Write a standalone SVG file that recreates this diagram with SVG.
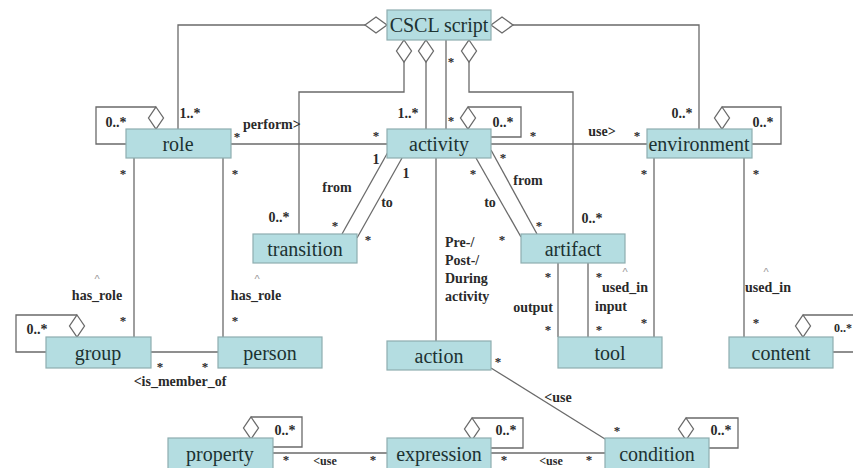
<svg xmlns="http://www.w3.org/2000/svg" width="853" height="468" viewBox="0 0 853 468">
<style>
.node rect{fill:#b4dde1;stroke:#8eadb0;stroke-width:1.2}
.node text{font-family:'Liberation Serif','DejaVu Serif',serif;font-size:20px;fill:#1c3232;text-anchor:middle}
.conn{fill:none;stroke:#6a6a6a;stroke-width:1.3}
.dia{fill:#fff;stroke:#6a6a6a;stroke-width:1.3}
.lbl{font-family:'Liberation Serif','DejaVu Serif',serif;font-size:14px;font-weight:bold;fill:#2a2a2a;text-anchor:middle}
.st{font-family:'Liberation Serif','DejaVu Serif',serif;font-size:13px;font-weight:bold;fill:#2a2a2a;text-anchor:middle}
.car{font-family:'Liberation Sans',sans-serif;font-size:11px;fill:#999;text-anchor:middle}
.lft{text-anchor:start}
</style>
<defs>
<polygon id="dv" class="dia" points="0,0 7.5,11 0,22 -7.5,11"/>
<polygon id="dh" class="dia" points="0,0 11,-8 22,0 11,8"/>
</defs>
<rect width="853" height="468" fill="#fff"/>
<g id="connectors">
<polyline class="conn" points="365,25 178,25 178,129"/>
<use href="#dh" x="365" y="25"/>
<polyline class="conn" points="513,25 699,25 699,129"/>
<use href="#dh" x="491" y="25"/>
<polyline class="conn" points="404,62 404,92 299,92 299,234"/>
<use href="#dv" x="404" y="40"/>
<line class="conn" x1="426" y1="62" x2="426" y2="129"/>
<use href="#dv" x="426" y="40"/>
<line class="conn" x1="446" y1="40" x2="446" y2="129"/>
<polyline class="conn" points="469,62 469,92 573,92 573,234"/>
<use href="#dv" x="469" y="40"/>
<polyline class="conn" points="468,107 521,107 521,137 491,137"/>
<use href="#dv" x="468" y="107"/>
<polyline class="conn" points="156,107 96,107 96,144 126,144"/>
<use href="#dv" x="156" y="107"/>
<polyline class="conn" points="722,107 781,107 781,144 752,144"/>
<use href="#dv" x="722" y="107"/>
<line class="conn" x1="231" y1="144" x2="387" y2="144"/>
<line class="conn" x1="491" y1="144" x2="647" y2="144"/>
<line class="conn" x1="134" y1="158" x2="134" y2="337"/>
<line class="conn" x1="223" y1="158" x2="223" y2="337"/>
<polyline class="conn" points="77,315 16,315 16,352 46,352"/>
<use href="#dv" x="77" y="315"/>
<line class="conn" x1="151" y1="352" x2="218" y2="352"/>
<line class="conn" x1="388" y1="152" x2="342" y2="234"/>
<line class="conn" x1="402" y1="158" x2="357" y2="238"/>
<line class="conn" x1="436" y1="158" x2="436" y2="341"/>
<line class="conn" x1="476" y1="158" x2="521" y2="237"/>
<line class="conn" x1="491" y1="150" x2="537" y2="234"/>
<line class="conn" x1="558" y1="263" x2="558" y2="337"/>
<line class="conn" x1="588" y1="263" x2="588" y2="337"/>
<line class="conn" x1="654" y1="158" x2="654" y2="337"/>
<line class="conn" x1="744" y1="158" x2="744" y2="337"/>
<polyline class="conn" points="803,315 862,315 862,352 833,352"/>
<use href="#dv" x="803" y="315"/>
<line class="conn" x1="491" y1="368" x2="605" y2="439"/>
<polyline class="conn" points="251,417 302,417 302,447 273,447"/>
<use href="#dv" x="251" y="417"/>
<polyline class="conn" points="472,418 523,418 523,448 491,448"/>
<use href="#dv" x="472" y="418"/>
<polyline class="conn" points="686,418 738,418 738,448 709,448"/>
<use href="#dv" x="686" y="418"/>
<line class="conn" x1="273" y1="453" x2="387" y2="453"/>
<line class="conn" x1="491" y1="453" x2="605" y2="453"/>
</g>
<g id="labels">
<text class="lbl" x="116" y="127">0..*</text>
<text class="lbl" x="190" y="118">1..*</text>
<text class="lbl lft" x="243" y="129">perform&gt;</text>
<text class="lbl" x="408" y="118">1..*</text>
<text class="lbl" x="503" y="127">0..*</text>
<text class="lbl" x="602" y="136">use&gt;</text>
<text class="lbl" x="682" y="118">0..*</text>
<text class="lbl" x="763" y="127">0..*</text>
<text class="lbl" x="279" y="222">0..*</text>
<text class="lbl" x="376" y="164">1</text>
<text class="lbl" x="406" y="178">1</text>
<text class="lbl" x="337" y="192">from</text>
<text class="lbl" x="387" y="207">to</text>
<text class="lbl" x="528" y="185">from</text>
<text class="lbl" x="490" y="207">to</text>
<text class="lbl" x="592" y="223">0..*</text>
<text class="lbl lft" x="445" y="247">Pre-/</text>
<text class="lbl lft" x="445" y="265">Post-/</text>
<text class="lbl lft" x="445" y="283">During</text>
<text class="lbl lft" x="445" y="301">activity</text>
<text class="lbl" x="533" y="312">output</text>
<text class="lbl" x="625" y="292">used_in</text>
<text class="lbl" x="611" y="311">input</text>
<text class="car" x="625" y="276">^</text>
<text class="car" x="766" y="276">^</text>
<text class="lbl" x="768" y="292">used_in</text>
<text class="car" x="97" y="283">^</text>
<text class="lbl" x="97" y="300">has_role</text>
<text class="car" x="257" y="283">^</text>
<text class="lbl" x="256" y="300">has_role</text>
<text class="lbl" x="37" y="334">0..*</text>
<text class="lbl" x="180" y="386">&lt;is_member_of</text>
<text class="lbl" x="558" y="402">&lt;use</text>
<text class="lbl" x="285" y="435">0..*</text>
<text class="lbl" x="506" y="435">0..*</text>
<text class="lbl" x="721" y="435">0..*</text>
<text class="lbl lft" x="834" y="332" style="font-size:12px">0..*</text>
<text class="lbl" x="325" y="465" style="font-size:12px">&lt;use</text>
<text class="lbl" x="551" y="465" style="font-size:12px">&lt;use</text>
<text class="st" x="237" y="141">*</text>
<text class="st" x="376" y="140">*</text>
<text class="st" x="451" y="66">*</text>
<text class="st" x="451" y="125">*</text>
<text class="st" x="533" y="140">*</text>
<text class="st" x="637" y="140">*</text>
<text class="st" x="123" y="178">*</text>
<text class="st" x="235" y="178">*</text>
<text class="st" x="123" y="325">*</text>
<text class="st" x="235" y="325">*</text>
<text class="st" x="160" y="371">*</text>
<text class="st" x="205" y="371">*</text>
<text class="st" x="335" y="230">*</text>
<text class="st" x="368" y="244">*</text>
<text class="st" x="473" y="178">*</text>
<text class="st" x="503" y="162">*</text>
<text class="st" x="539" y="230">*</text>
<text class="st" x="502" y="244">*</text>
<text class="st" x="548" y="281">*</text>
<text class="st" x="548" y="334">*</text>
<text class="st" x="599" y="281">*</text>
<text class="st" x="599" y="334">*</text>
<text class="st" x="644" y="178">*</text>
<text class="st" x="644" y="327">*</text>
<text class="st" x="756" y="178">*</text>
<text class="st" x="756" y="327">*</text>
<text class="st" x="498" y="366">*</text>
<text class="st" x="617" y="435">*</text>
<text class="st" x="286" y="464">*</text>
<text class="st" x="373" y="464">*</text>
<text class="st" x="504" y="464">*</text>
<text class="st" x="589" y="464">*</text>
</g>
<g id="cscl-script" class="node"><rect x="387" y="10" width="104" height="30"/><text x="439" y="32">CSCL script</text></g>
<g id="role" class="node"><rect x="126" y="129" width="105" height="29"/><text x="178" y="151">role</text></g>
<g id="activity" class="node"><rect x="387" y="129" width="104" height="29"/><text x="439" y="151">activity</text></g>
<g id="environment" class="node"><rect x="647" y="129" width="105" height="29"/><text x="699" y="151">environment</text></g>
<g id="transition" class="node"><rect x="253" y="234" width="104" height="29"/><text x="305" y="256">transition</text></g>
<g id="artifact" class="node"><rect x="521" y="234" width="104" height="29"/><text x="573" y="256">artifact</text></g>
<g id="group" class="node"><rect x="46" y="337" width="105" height="31"/><text x="98" y="360">group</text></g>
<g id="person" class="node"><rect x="218" y="337" width="104" height="31"/><text x="270" y="360">person</text></g>
<g id="action" class="node"><rect x="387" y="341" width="104" height="29"/><text x="439" y="363">action</text></g>
<g id="tool" class="node"><rect x="558" y="337" width="104" height="31"/><text x="610" y="360">tool</text></g>
<g id="content" class="node"><rect x="729" y="337" width="104" height="31"/><text x="781" y="360">content</text></g>
<g id="property" class="node"><rect x="168" y="438" width="105" height="32"/><text x="220" y="461">property</text></g>
<g id="expression" class="node"><rect x="387" y="438" width="104" height="32"/><text x="439" y="461">expression</text></g>
<g id="condition" class="node"><rect x="605" y="438" width="104" height="32"/><text x="657" y="461">condition</text></g>
</svg>
